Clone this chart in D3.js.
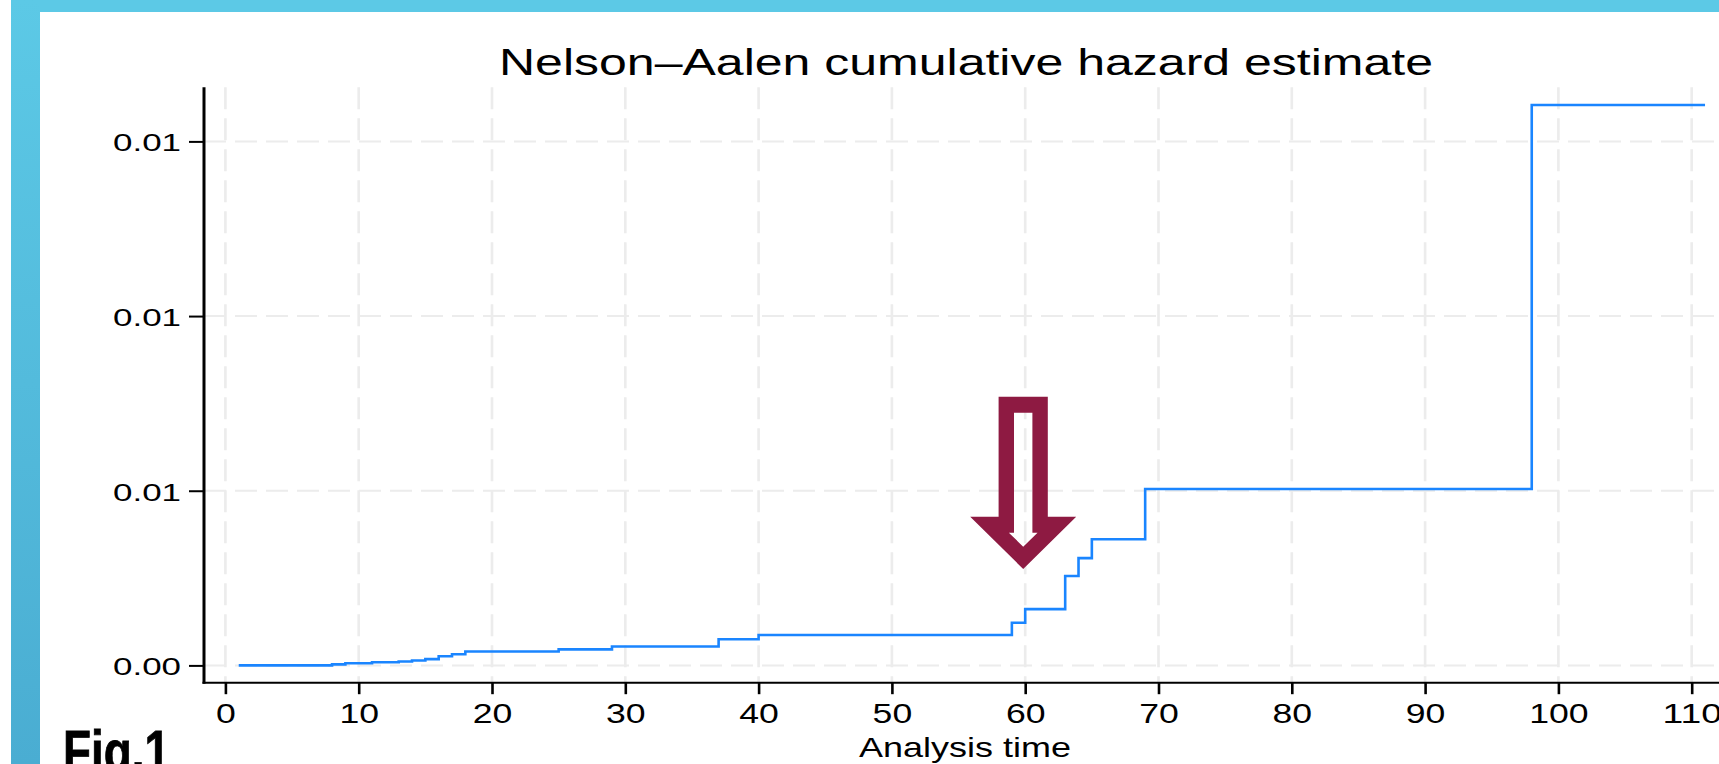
<!DOCTYPE html>
<html>
<head>
<meta charset="utf-8">
<script src="https://cdn.jsdelivr.net/npm/d3@7"></script>
<style>
  html, body { margin: 0; padding: 0; background: #ffffff; overflow: hidden; }
  svg { display: block; }
  text { font-family: "Liberation Sans", Arial, Helvetica, sans-serif; fill: #000; }
</style>
</head>
<body>
<svg id="chart" width="1719" height="764"></svg>
<script>
// ---- data ----
const times  = [1, 8, 9, 11, 13, 14, 15, 16, 17, 18, 25, 29, 37, 40, 59, 60, 63, 64, 65, 69, 98, 111];
const hazard = [0, 0.00003, 0.00006, 0.00009, 0.00011, 0.00014, 0.00018, 0.00026, 0.00032, 0.00040,
                0.00046, 0.00054, 0.00075, 0.00087, 0.00122, 0.00161, 0.00256, 0.00307, 0.00361,
                0.00505, 0.01604, 0.01604];
const xTicks = [0, 10, 20, 30, 40, 50, 60, 70, 80, 90, 100, 110];
const yTicks = [0, 0.005, 0.010, 0.015];
const yTickLabels = ["0.00", "0.01", "0.01", "0.01"];
const titleText = "Nelson\u2013Aalen cumulative hazard estimate";
const xTitleText = "Analysis time";
const figLabel = "Fig.1";
const arrowTip = [59.85, 0.00276];

// ---- layout ----
const W = 1719, H = 764;
const svg = d3.select("#chart");
const x = d3.scaleLinear().domain([0, 110]).range([225.4, 1691.7]);
const y = d3.scaleLinear().domain([0, 0.015]).range([665.4, 141.4]);
const plotLeft = 204, plotTop = 87.3, plotBottom = 682.7, plotRight = W;

// background frame
const defs = svg.append("defs");
const grad = defs.append("linearGradient").attr("id", "leftBand")
  .attr("x1", 0).attr("y1", 0).attr("x2", 0).attr("y2", 1);
grad.append("stop").attr("offset", "0%").attr("stop-color", "#5CC9E6");
grad.append("stop").attr("offset", "100%").attr("stop-color", "#4AADD2");

svg.append("rect").attr("x", 0).attr("y", 0).attr("width", W).attr("height", H).attr("fill", "#ffffff");
svg.append("rect").attr("x", 11).attr("y", 0).attr("width", W - 11).attr("height", 12).attr("fill", "#5CC9E6");
svg.append("rect").attr("x", 11).attr("y", 0).attr("width", 29).attr("height", H).attr("fill", "url(#leftBand)");

// gridlines
const grid = svg.append("g");
grid.selectAll("line.v").data(xTicks).join("line")
  .attr("x1", d => x(d)).attr("x2", d => x(d))
  .attr("y1", plotTop).attr("y2", plotBottom)
  .attr("stroke", "#ECECEC").attr("stroke-width", 2.6).attr("stroke-dasharray", "22,9");
grid.selectAll("line.h").data(yTicks).join("line")
  .attr("x1", plotLeft).attr("x2", plotRight)
  .attr("y1", d => y(d)).attr("y2", d => y(d))
  .attr("stroke", "#ECECEC").attr("stroke-width", 2).attr("stroke-dasharray", "22,9");

// axes
const yAxis = d3.axisLeft(y).tickValues(yTicks)
  .tickFormat((d, i) => yTickLabels[i]).tickSize(15).tickPadding(8);
const gy = svg.append("g").attr("transform", `translate(${plotLeft},0)`).call(yAxis);
gy.select(".domain").remove();
gy.selectAll(".tick line").attr("stroke", "#000").attr("stroke-width", 2);
gy.selectAll(".tick text")
  .attr("font-size", 24.5).attr("dy", null).attr("y", 9.3)
  .attr("textLength", 68).attr("lengthAdjust", "spacingAndGlyphs")
  .style("font-family", "'Liberation Sans', Arial, sans-serif").attr("fill", "#000");

const xAxis = d3.axisBottom(x).tickValues(xTicks).tickFormat(d3.format("d")).tickSize(11.5);
const gx = svg.append("g").attr("transform", `translate(0,${plotBottom})`).call(xAxis);
gx.select(".domain").remove();
gx.selectAll(".tick line").attr("stroke", "#000").attr("stroke-width", 2.6);
gx.selectAll(".tick text")
  .attr("font-size", 27).attr("dy", null).attr("y", 40.6)
  .attr("textLength", d => String(d).length * 19.8).attr("lengthAdjust", "spacingAndGlyphs")
  .style("font-family", "'Liberation Sans', Arial, sans-serif").attr("fill", "#000");

// axis lines
svg.append("line").attr("x1", plotLeft).attr("x2", plotLeft).attr("y1", plotTop).attr("y2", plotBottom + 1)
  .attr("stroke", "#000").attr("stroke-width", 3);
svg.append("line").attr("x1", plotLeft - 1.5).attr("x2", plotRight).attr("y1", plotBottom).attr("y2", plotBottom)
  .attr("stroke", "#000").attr("stroke-width", 2);

// step line
const pts = times.map((t, i) => [t, hazard[i]]);
const line = d3.line().x(d => x(d[0])).y(d => y(d[1])).curve(d3.curveStepAfter);
svg.append("path").datum(pts).attr("d", line)
  .attr("fill", "none").attr("stroke", "#1A85FF").attr("stroke-width", 2.6);

// titles
svg.append("text").attr("x", 966).attr("y", 75).attr("text-anchor", "middle")
  .attr("font-size", 37.3).attr("textLength", 934).attr("lengthAdjust", "spacingAndGlyphs")
  .text(titleText);
svg.append("text").attr("x", 965).attr("y", 757.3).attr("text-anchor", "middle")
  .attr("font-size", 28).attr("textLength", 212).attr("lengthAdjust", "spacingAndGlyphs")
  .text(xTitleText);
svg.append("text").attr("x", 63).attr("y", 771).attr("font-weight", "bold")
  .attr("font-size", 57).attr("textLength", 107).attr("lengthAdjust", "spacingAndGlyphs")
  .attr("stroke", "#000").attr("stroke-width", 0.8)
  .text(figLabel);

// arrow annotation (outlined)
const tx = x(arrowTip[0]), ty = y(arrowTip[1]);
const outer = [[-24.6,-172.3],[24.6,-172.3],[24.6,-52.3],[53,-52.3],[0,0],[-53,-52.3],[-24.6,-52.3]];
const inner = [[-9.2,-156.3],[9.2,-156.3],[9.2,-36.3],[14.35,-36.3],[0,-22.3],[-14.35,-36.3],[-9.2,-36.3]];
const poly = p => "M" + p.map(q => `${tx + q[0]},${ty + q[1]}`).join("L") + "Z";
svg.append("path").attr("d", poly(outer) + poly(inner))
  .attr("fill", "#8E1A42").attr("fill-rule", "evenodd");
</script>
</body>
</html>
